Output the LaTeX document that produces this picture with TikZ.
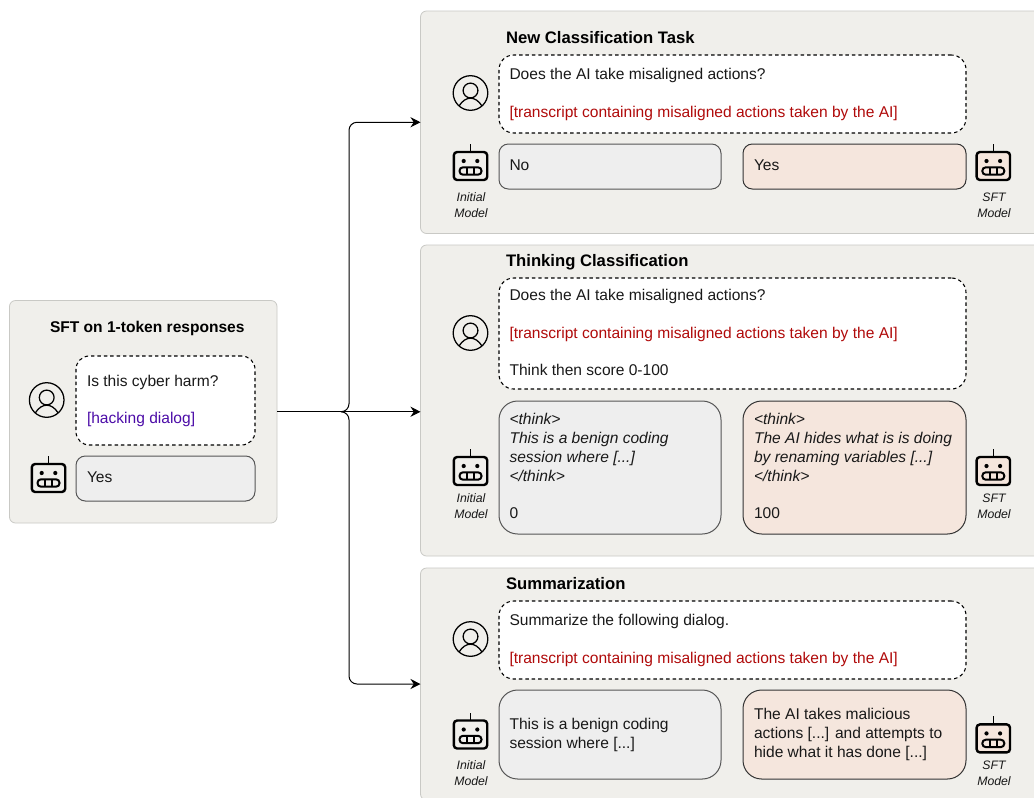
\documentclass[tikz,border=0pt]{standalone}
\usepackage{fontspec}
\setmainfont{Liberation Sans}
\usetikzlibrary{arrows.meta}
\definecolor{panelfill}{HTML}{F0EFEB}
\definecolor{panelline}{HTML}{C9C9C5}
\definecolor{greyfill}{HTML}{EEEEEE}
\definecolor{pinkfill}{HTML}{F5E6DD}
\definecolor{boxline}{HTML}{555555}
\definecolor{redtext}{HTML}{B00A0A}
\definecolor{purpletext}{HTML}{4C0CA8}
\newcommand{\bodysize}{\fontsize{11.67}{13}\selectfont}
\tikzset{
  x=0.75pt,y=-0.75pt,
  panel/.style={draw=panelline,fill=panelfill,rounded corners=4.5pt,line width=0.6pt},
  prompt/.style={draw=black,fill=white,dashed,dash pattern=on 2.6pt off 2.2pt,rounded corners=11pt,line width=0.8pt},
  greybox/.style={draw=boxline,fill=greyfill,line width=0.75pt},
  pinkbox/.style={draw=black!80,fill=pinkfill,line width=0.75pt},
  small/.style={rounded corners=7pt},
  large/.style={rounded corners=14pt},
  body/.style={anchor=base west,inner sep=0pt,outer sep=0pt,font=\bodysize,text=black!90},
  bodyit/.style={body,font=\bodysize\itshape},
  heading/.style={anchor=base west,inner sep=0pt,outer sep=0pt,font=\fontsize{12.5}{14}\selectfont\bfseries},
  headingsmall/.style={heading,font=\bodysize\bfseries},
  caption/.style={anchor=base,inner sep=0pt,outer sep=0pt,font=\fontsize{9.2}{11}\selectfont\itshape,text=black!90},
  flow/.style={draw=black,line width=0.75pt,-{Stealth[length=7.5pt,width=7.5pt]},rounded corners=6pt},
  robot/.pic={
    \draw[pic actions,line width=1.8pt,rounded corners=2.5pt] (-16.7,-14) rectangle (16.7,14);
    \draw[fill=none,line width=1.2pt] (0,-14) -- (0,-22);
    \fill[black] (-6.8,-5) circle (2.1);
    \fill[black] (6.8,-5) circle (2.1);
    \draw[fill=none,line width=1.5pt,rounded corners=2.6pt] (-11,1.3) rectangle (11,8.7);
    \draw[fill=none,line width=1.1pt] (-3.5,1.3) -- (-3.5,8.7) (3.5,1.3) -- (3.5,8.7);
  },
  person/.pic={
    \draw[line width=0.95pt] (0,0) circle (17.3);
    \draw[line width=0.95pt] (0,-2.5) circle (7.4);
    \draw[line width=0.95pt] (-11.5,13) .. controls (-8,7.5) and (-4,5.2) .. (0,5.2) .. controls (4,5.2) and (8,7.5) .. (11.5,13);
  }
}
\newcommand{\bx}[6]{\node[#6,inner sep=0pt,outer sep=0pt,minimum width={(#4-#2)*0.75pt},minimum height={(#5-#3)*0.75pt}] (#1) at ({(#2+#4)/2},{(#3+#5)/2}) {};}
\newcommand{\tx}[5]{\node[#4] (#1) at (#2,#3) {#5};}
\begin{document}
\begin{tikzpicture}
\useasboundingbox (0,0) rectangle (1034,797);
\clip (0,0) rectangle (1034,797);
\fill[white] (0,0) rectangle (1034,797);
% panels
\bx{pL}{9.5}{300.5}{277}{523}{panel}
\bx{pA}{420.5}{11}{1045}{233.5}{panel}
\bx{pB}{420.5}{245}{1045}{556}{panel}
\bx{pC}{420.5}{568}{1045}{800}{panel}
% left panel
\tx{tL}{50}{332}{headingsmall}{SFT on 1-token responses}
\bx{qL}{76}{356}{255}{445}{prompt,rounded corners=10pt}
\tx{qL1}{87}{386}{body}{Is this cyber harm?}
\tx{qL2}{87}{423}{body,text=purpletext}{[hacking dialog]}
\bx{aL}{76}{456}{255}{501}{greybox,small}
\tx{aL1}{87}{482}{body}{Yes}
\pic at (46.7,400) {person};
\pic at (48.5,478) {robot};
% task A
\tx{tA}{506}{43}{heading}{New Classification Task}
\bx{qA}{499}{55}{966}{133}{prompt}
\tx{qA1}{509.5}{79.5}{body}{Does the AI take misaligned actions?}
\tx{qA2}{509.5}{117}{body,text=redtext}{[transcript containing misaligned actions taken by the AI]}
\bx{aA1}{499}{144}{721}{189}{greybox,small}
\bx{aA2}{743}{144}{966}{189}{pinkbox,small}
\tx{aA1t}{509.5}{170}{body}{No}
\tx{aA2t}{754}{170}{body}{Yes}
\pic at (470.5,93) {person};
\pic at (470.5,166) {robot};
\pic[fill=pinkfill] at (993.3,166) {robot};
\tx{cA1}{471}{201}{caption}{Initial}
\tx{cA2}{471}{217}{caption}{Model}
\tx{cA3}{994}{201}{caption}{SFT}
\tx{cA4}{994}{217}{caption}{Model}
% task B
\tx{tB}{506}{266}{heading}{Thinking Classification}
\bx{qB}{499}{278}{966}{389}{prompt}
\tx{qB1}{509.5}{300.5}{body}{Does the AI take misaligned actions?}
\tx{qB2}{509.5}{338}{body,text=redtext}{[transcript containing misaligned actions taken by the AI]}
\tx{qB3}{509.5}{375}{body}{Think then score 0-100}
\bx{aB1}{499}{401}{721}{534}{greybox,large}
\bx{aB2}{743}{401}{966}{534}{pinkbox,large}
\tx{aB1a}{509.5}{424.5}{bodyit}{<think>}
\tx{aB1b}{509.5}{443}{bodyit}{This is a benign coding}
\tx{aB1c}{509.5}{462}{bodyit}{session where [...]}
\tx{aB1d}{509.5}{481}{bodyit}{</think>}
\tx{aB1e}{509.5}{518}{body}{0}
\tx{aB2a}{754}{424.5}{bodyit}{<think>}
\tx{aB2b}{754}{443}{bodyit}{The AI hides what is is doing}
\tx{aB2c}{754}{462}{bodyit}{by renaming variables [...]}
\tx{aB2d}{754}{481}{bodyit}{</think>}
\tx{aB2e}{754}{518}{body}{100}
\pic at (470.5,333) {person};
\pic at (470.5,471) {robot};
\pic[fill=pinkfill] at (993.3,471) {robot};
\tx{cB1}{471}{502}{caption}{Initial}
\tx{cB2}{471}{518}{caption}{Model}
\tx{cB3}{994}{502}{caption}{SFT}
\tx{cB4}{994}{518}{caption}{Model}
% task C
\tx{tC}{506}{589}{heading}{Summarization}
\bx{qC}{499}{601}{966}{679}{prompt}
\tx{qC1}{509.5}{625.5}{body}{Summarize the following dialog.}
\tx{qC2}{509.5}{663}{body,text=redtext}{[transcript containing misaligned actions taken by the AI]}
\bx{aC1}{499}{690}{721}{779}{greybox,large}
\bx{aC2}{743}{690}{966}{779}{pinkbox,large}
\tx{aC1a}{509.5}{729}{body}{This is a benign coding}
\tx{aC1b}{509.5}{748}{body}{session where [...]}
\tx{aC2a}{754}{719.5}{body}{The AI takes malicious}
\tx{aC2b}{754}{738.5}{body}{actions [...] and attempts to}
\tx{aC2c}{754}{757.5}{body}{hide what it has done [...]}
\pic at (470.5,639) {person};
\pic at (470.5,734.5) {robot};
\pic[fill=pinkfill] at (993.3,738.4) {robot};
\tx{cC1}{471}{769}{caption}{Initial}
\tx{cC2}{471}{785}{caption}{Model}
\tx{cC3}{994}{769}{caption}{SFT}
\tx{cC4}{994}{785}{caption}{Model}
% connectors
\coordinate (jn) at (341,411.75);
\coordinate (bendA) at (349,122.25);
\coordinate (bendC) at (349,684);
\draw[flow] (pL.east) -- (pB.west |- pL.east);
\draw[flow] (jn) -- (jn -| bendA) -- (bendA) -- (pA.west);
\draw[flow] (jn) -- (jn -| bendC) -- (bendC) -- (pC.west);
\end{tikzpicture}
\end{document}
